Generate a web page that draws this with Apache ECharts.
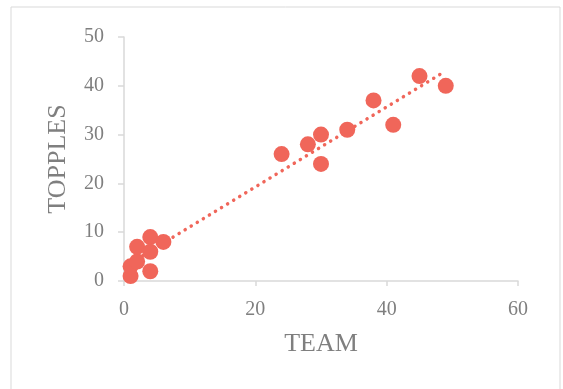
<!DOCTYPE html>
<html>
<head>
<meta charset="utf-8">
<script src="https://cdn.jsdelivr.net/npm/echarts@6/dist/echarts.min.js"></script>
<style>
  html, body { margin: 0; padding: 0; background: #fff; }
  #chart { width: 563px; height: 389px; }
</style>
</head>
<body>
<div id="chart"></div>
<script>
// TEAM vs TOPPLES observations
var teamValues    = [1, 1, 2, 2, 4, 4, 4, 6, 24, 28, 30, 30, 34, 38, 41, 45, 49];
var topplesValues = [1, 3, 4, 7, 9, 6, 2, 8, 26, 28, 30, 24, 31, 37, 32, 42, 40];
var xTicks = [0, 20, 40, 60];
var yTicks = [0, 10, 20, 30, 40, 50];

var points = teamValues.map(function (x, i) { return [x, topplesValues[i]]; });

// Least-squares linear trendline over the observed TEAM range
function linearFit(xs, ys) {
  var n = xs.length, sx = 0, sy = 0, sxx = 0, sxy = 0;
  for (var i = 0; i < n; i++) {
    sx += xs[i]; sy += ys[i]; sxx += xs[i] * xs[i]; sxy += xs[i] * ys[i];
  }
  var slope = (n * sxy - sx * sy) / (n * sxx - sx * sx);
  var intercept = (sy - slope * sx) / n;
  return { slope: slope, intercept: intercept };
}
var fit = linearFit(teamValues, topplesValues);
var xMin = Math.min.apply(null, teamValues);
var xMax = Math.max.apply(null, teamValues);
var trend = [
  [xMin, fit.intercept + fit.slope * xMin],
  [xMax, fit.intercept + fit.slope * xMax]
];

var red = '#F0665A';
var axisGray = '#d9d9d9';
var textGray = '#7f7f7f';
var serif = '"Liberation Serif", "DejaVu Serif", serif';

var chart = echarts.init(document.getElementById('chart'), null, { renderer: 'canvas' });
chart.setOption({
  animation: false,
  backgroundColor: '#fff',
  graphic: [{
    type: 'rect',
    shape: { x: 11, y: 7, width: 549, height: 400 },
    style: { fill: 'none', stroke: axisGray, lineWidth: 1 },
    silent: true,
    z: -1
  }],
  grid: { left: 124, right: 45, top: 37, bottom: 108 },
  xAxis: {
    type: 'value',
    min: xTicks[0],
    max: xTicks[xTicks.length - 1],
    interval: xTicks[1] - xTicks[0],
    name: 'TEAM',
    nameLocation: 'middle',
    nameGap: 50,
    nameTextStyle: { fontFamily: serif, fontSize: 26, color: textGray },
    axisLine: { show: true, lineStyle: { color: axisGray, width: 1.5 } },
    axisTick: { show: true, length: 5, lineStyle: { color: axisGray, width: 1.5 } },
    axisLabel: { margin: 19, fontFamily: serif, fontSize: 20, color: textGray },
    splitLine: { show: false }
  },
  yAxis: {
    type: 'value',
    min: yTicks[0],
    max: yTicks[yTicks.length - 1],
    interval: yTicks[1] - yTicks[0],
    name: 'TOPPLES',
    nameLocation: 'middle',
    nameGap: 53,
    nameTextStyle: { fontFamily: serif, fontSize: 26, color: textGray },
    axisLine: { show: true, lineStyle: { color: axisGray, width: 1.5 } },
    axisTick: { show: true, length: 6, lineStyle: { color: axisGray, width: 1.5 } },
    axisLabel: { margin: 20, fontFamily: serif, fontSize: 20, color: textGray },
    splitLine: { show: false }
  },
  series: [
    {
      type: 'line',
      data: trend,
      symbol: 'none',
      silent: true,
      z: 1,
      lineStyle: { color: red, width: 3.5, type: [0.1, 7], cap: 'round' }
    },
    {
      type: 'scatter',
      data: points,
      symbol: 'circle',
      symbolSize: 16,
      z: 2,
      itemStyle: { color: red, opacity: 1 }
    }
  ]
});
</script>
</body>
</html>
